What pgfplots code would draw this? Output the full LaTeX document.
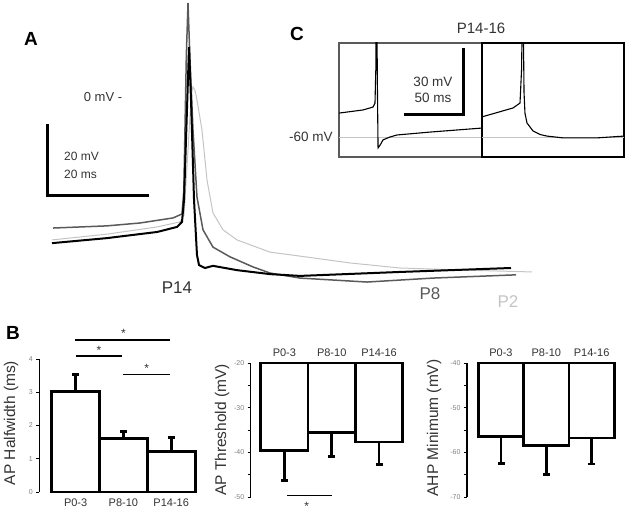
\documentclass[border=0pt]{standalone}
\usepackage{fontspec}
\setmainfont{Liberation Sans}
\usepackage{pgfplots}
\pgfplotsset{compat=1.18}
\definecolor{dgray}{HTML}{5A5A5A}
\definecolor{lgray}{HTML}{C4C4C4}
\definecolor{txt}{HTML}{333333}
\newcommand{\fs}[1]{\fontsize{#1}{#1}\selectfont}
\pgfplotsset{
  barchart/.style={
    scale only axis, anchor=south west, clip=false,
    /pgf/number format/assume math mode=true,
    axis line style={-},
    y axis line style={-, line width=1.1pt, black},
    x axis line style={draw=none},
    xtick={0,1,2}, xticklabels={P0-3,P8-10,P14-16},
    xtick style={draw=none},
    ytick style={black, line width=0.7pt},
    minor y tick style={black, line width=0.7pt},
    tick align=outside, major tick length=3pt, minor tick length=3pt,
    xticklabel style={font=\fs{11}, text=txt},
    yticklabel style={font=\fs{7}, text=gray},
  },
  errs/.style={
    error bars/.cd, y explicit, y dir=#1, error mark=|,
    error bar style={draw=black, line width=2.8pt},
    error mark options={draw=black, line width=2.8pt, mark size=3.5pt},
  },
}
\begin{document}
\begin{tikzpicture}[x=1pt,y=1pt]
\useasboundingbox (0,0) rectangle (626,521);

% ---------------- Panel A ----------------
\begin{axis}[at={(40pt,231pt)}, anchor=south west, scale only axis,
  width=520pt, height=290pt, xmin=0, xmax=101.96, ymin=-53.61, ymax=26.94,
  hide axis, clip=false]
\addplot[lgray, line width=1pt] coordinates {
(2.35,-39.7) (13.14,-38.1) (22.94,-36.1) (27.45,-34.7) (28.24,-32.8)
(29.02,-14.7) (29.7,1.5) (30.0,2.8) (30.4,1.8) (30.78,-0.8) (31.76,-9.2)
(32.75,-23.1) (33.92,-32.2) (35.88,-36.9) (38.63,-39.7) (45.1,-43.1)
(50.98,-44.2) (60.78,-46.1) (70.59,-47.5) (83.73,-48.1) (96.47,-48.6)};
\addplot[dgray, line width=1.5pt] coordinates {
(2.55,-36.4) (13.14,-35.8) (19.61,-35.0) (26.08,-33.6) (27.84,-32.5)
(28.2,-26) (28.7,12) (29.02,26.1) (29.41,10.3) (30.0,-9.2) (30.78,-27.8)
(31.96,-36.9) (33.92,-41.7) (37.25,-44.4) (41.76,-47.2) (45.1,-48.9)
(50.98,-50.3) (64.12,-51.4) (77.06,-50.3) (93.33,-49.4)};
\addplot[black, line width=2pt] coordinates {
(2.35,-40.6) (13.14,-39.2) (22.94,-37.5) (26.86,-36.1) (27.84,-34.7)
(28.24,-28.6) (29.22,13.9) (29.61,-0.8) (30.2,-28.6) (30.78,-43.9)
(31.18,-46.7) (32.35,-47.5) (33.92,-46.9) (38.63,-48.1) (45.1,-49.2)
(50.98,-49.7) (70.59,-48.6) (92.35,-47.5)};
\end{axis}

\draw[line width=3pt, line join=miter] (47,397) -- (47,325) -- (149,325);
\node[font=\fs{12}, text=txt] at (81.5,365) {20 mV};
\node[font=\fs{12}, text=txt] at (80.5,347) {20 ms};
\node[font=\fs{13}, text=txt] at (103,423.5) {0 mV -};
\node[font=\bfseries\fs{19}] at (31,482) {A};
\node[font=\fs{17}, text=txt] at (177,233) {P14};
\node[font=\fs{17}, text=dgray] at (430,227) {P8};
\node[font=\fs{17}, text=lgray] at (508,219) {P2};

% ---------------- Panel C ----------------
\begin{axis}[at={(339pt,364pt)}, anchor=south west, scale only axis,
  width=143pt, height=114pt, xmin=0, xmax=121.2, ymin=-68.96, ymax=-17.9,
  xtick=\empty, ytick=\empty, axis line style={draw=dgray, line width=1.1pt}]
\addplot[lgray, line width=0.8pt] coordinates {(0,-60) (121.2,-60)};
\addplot[black, line width=1.1pt] coordinates {
(0,-49.3) (20.3,-47.9) (28.8,-46.6) (30.5,-44.8) (31.2,-30) (31.6,0) (32.0,0)
(32.6,-40) (33.1,-64.9) (35,-63.5) (37.3,-61.3) (43.2,-60.0) (49.2,-59.1)
(77.1,-57.8) (121.2,-56.0)};
\end{axis}
\begin{axis}[at={(482pt,364pt)}, anchor=south west, scale only axis,
  width=142pt, height=114pt, xmin=0, xmax=120.3, ymin=-68.96, ymax=-17.9,
  xtick=\empty, ytick=\empty, axis line style={draw=black, line width=1.1pt}]
\addplot[lgray, line width=0.8pt] coordinates {(0,-60) (120.3,-60)};
\addplot[black, line width=1.1pt] coordinates {
(0,-51.0) (26.3,-47.0) (32.2,-44.8) (33.5,-30) (34.3,0) (34.8,0) (35.6,-40)
(36.4,-49.3) (38.1,-53.7) (43.2,-57.3) (49.2,-58.9) (55.1,-59.6) (68.6,-60.4)
(97.5,-60.4) (120.3,-59.6)};
\end{axis}

\draw[line width=3pt, line join=miter] (463,473) -- (463,406) -- (404,406);
\node[font=\fs{13.5}, text=txt] at (433,439) {30 mV};
\node[font=\fs{13.5}, text=txt] at (433,423) {50 ms};
\node[font=\fs{13.5}, text=txt] at (311,384) {-60 mV};
\node[font=\fs{15}, text=txt] at (481,493) {P14-16};
\node[font=\bfseries\fs{19}] at (297,487) {C};

% ---------------- Panel B ----------------
\node[font=\bfseries\fs{19}] at (13,188) {B};

% B1: AP Halfwidth
\begin{axis}[barchart, at={(39.3pt,29pt)}, width=155.8pt, height=133pt,
  xmin=-0.76, xmax=2.5, ymin=0, ymax=4, ytick={0,1,2,3,4},
  axis y line*=left, axis x line*=bottom]
\addplot[draw=none, mark=none, errs=plus]
  coordinates {(0,3.02) +- (0,0.52) (1,1.62) +- (0,0.21) (2,1.22) +- (0,0.41)};
\addplot[ybar, bar width=1, fill=white, draw=black, line width=2.8pt]
  coordinates {(0,3.02) (1,1.62) (2,1.22)};
\draw[line width=1.4pt] (axis cs:-0.01,4.57) -- (axis cs:1.98,4.57);
\draw[line width=1.4pt] (axis cs:0,4.09) -- (axis cs:0.96,4.09);
\draw[line width=1.4pt] (axis cs:1.0,3.54) -- (axis cs:1.98,3.54);
\node[font=\fs{12}, text=txt] at (axis cs:1.0,4.77) {*};
\node[font=\fs{12}, text=txt] at (axis cs:0.49,4.26) {*};
\node[font=\fs{12}, text=txt] at (axis cs:1.49,3.71) {*};
\end{axis}
\node[font=\fs{15.5}, text=txt, rotate=90] at (11,98) {AP Halfwidth (ms)};

% B2: AP Threshold
\begin{axis}[barchart, at={(250.7pt,24pt)}, width=152pt, height=134pt,
  xmin=-0.712, xmax=2.5, ymin=-50, ymax=-20, ytick={-50,-40,-30,-20},
  minor ytick={-45,-35,-25},
  axis y line*=left, axis x line*=top]
\addplot[draw=none, mark=none, errs=minus]
  coordinates {(0,-39.6) +- (0,6.7) (1,-35.5) +- (0,5.5) (2,-37.7) +- (0,5.1)};
\addplot[fill=white, draw=black, line width=2.8pt, line join=miter]
  coordinates {(-0.5,-20) (-0.5,-39.6) (0.5,-39.6) (0.5,-20)} -- cycle;
\addplot[fill=white, draw=black, line width=2.8pt, line join=miter]
  coordinates {(0.5,-20) (0.5,-35.5) (1.5,-35.5) (1.5,-20)} -- cycle;
\addplot[fill=white, draw=black, line width=2.8pt, line join=miter]
  coordinates {(1.5,-20) (1.5,-37.7) (2.5,-37.7) (2.5,-20)} -- cycle;
\draw[line width=1.4pt] (axis cs:0.05,-49.7) -- (axis cs:1.0,-49.7);
\node[font=\fs{12}, text=txt] at (axis cs:0.47,-52.1) {*};
\end{axis}
\node[font=\fs{15.5}, text=txt, rotate=90] at (222,91) {AP Threshold (mV)};

% B3: AHP Minimum
\begin{axis}[barchart, at={(467pt,24pt)}, width=147.3pt, height=134pt,
  xmin=-0.75, xmax=2.5, ymin=-70, ymax=-40, ytick={-70,-60,-50,-40},
  minor ytick={-65,-55,-45},
  axis y line*=left, axis x line*=top]
\addplot[draw=none, mark=none, errs=minus]
  coordinates {(0,-56.5) +- (0,6.0) (1,-58.5) +- (0,6.5) (2,-56.8) +- (0,5.8)};
\addplot[fill=white, draw=black, line width=2.8pt, line join=miter]
  coordinates {(-0.5,-40) (-0.5,-56.5) (0.5,-56.5) (0.5,-40)} -- cycle;
\addplot[fill=white, draw=black, line width=2.8pt, line join=miter]
  coordinates {(0.5,-40) (0.5,-58.5) (1.5,-58.5) (1.5,-40)} -- cycle;
\addplot[fill=white, draw=black, line width=2.8pt, line join=miter]
  coordinates {(1.5,-40) (1.5,-56.8) (2.5,-56.8) (2.5,-40)} -- cycle;
\end{axis}
\node[font=\fs{15.5}, text=txt, rotate=90] at (434,93) {AHP Minimum (mV)};

\end{tikzpicture}
\end{document}
